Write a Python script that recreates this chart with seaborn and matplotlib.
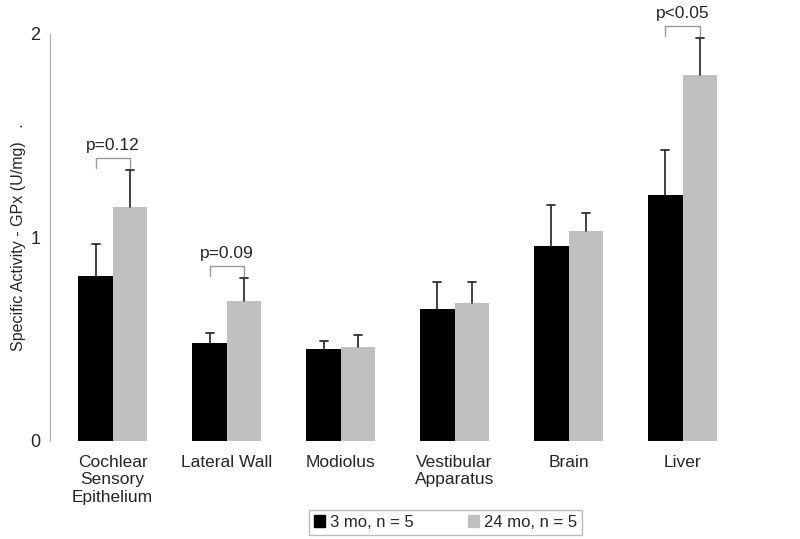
import numpy as np
import pandas as pd
import seaborn as sns
import matplotlib
import matplotlib.pyplot as plt

matplotlib.use("Agg")

tissues = ["Cochlear\nSensory\nEpithelium", "Lateral Wall", "Modiolus",
           "Vestibular\nApparatus", "Brain", "Liver"]
groups = ["3 mo, n = 5", "24 mo, n = 5"]
young = [0.81, 0.48, 0.45, 0.65, 0.96, 1.21]
old = [1.15, 0.69, 0.46, 0.68, 1.03, 1.80]
young_err = [0.16, 0.05, 0.04, 0.13, 0.20, 0.22]
old_err = [0.18, 0.11, 0.06, 0.10, 0.09, 0.18]
pvals = {0: "p=0.12", 1: "p=0.09", 5: "p<0.05"}

df = pd.DataFrame({
    "tissue": tissues * 2,
    "group": [groups[0]] * 6 + [groups[1]] * 6,
    "value": young + old,
})

sns.set_style("white")
plt.rcParams["font.family"] = ["Liberation Sans", "DejaVu Sans"]

fig = plt.figure(figsize=(8, 5.39), dpi=100)
ax = fig.add_axes([0.0625, 0.182, 0.869, 0.755])

sns.barplot(data=df, x="tissue", y="value", hue="group", order=tissues,
            hue_order=groups, palette=["#000000", "#c0c0c0"], width=0.6,
            errorbar=None, saturation=1, linewidth=0, ax=ax, legend=False)

# one-sided error bars on top of each bar
for cont, errs in zip(ax.containers, [young_err, old_err]):
    for bar, e in zip(cont, errs):
        xc = bar.get_x() + bar.get_width() / 2
        h = bar.get_height()
        ax.plot([xc, xc], [h, h + e], color="#333333", lw=1.3)
        ax.plot([xc - 0.035, xc + 0.035], [h + e, h + e], color="#333333", lw=1.3)

# significance brackets
for i, txt in pvals.items():
    b1 = ax.containers[0][i]
    b2 = ax.containers[1][i]
    x1 = b1.get_x() + b1.get_width() / 2
    x2 = b2.get_x() + b2.get_width() / 2
    top = max(young[i] + young_err[i], old[i] + old_err[i]) + 0.06
    ax.plot([x1, x1, x2, x2], [top - 0.05, top, top, top - 0.05],
            color="#999999", lw=1, clip_on=False)
    ax.text((x1 + x2) / 2, top + 0.025, txt, ha="center", va="bottom",
            fontsize=12.5, clip_on=False)

ax.set_ylim(0, 2)
ax.set_xlim(-0.55, 5.55)
ax.set_yticks([0, 1, 2])
ax.set_yticklabels(["0", "1", "2"], fontsize=13)
ax.tick_params(axis="y", length=5, color="#aaaaaa", pad=2)
ax.tick_params(axis="x", length=0, labelsize=12.5, pad=10)
ax.set_xlabel("")
ax.set_ylabel("Specific Activity - GPx (U/mg)   .", fontsize=11.5, labelpad=3)

for s in ["top", "right", "bottom"]:
    ax.spines[s].set_visible(False)
ax.spines["left"].set_color("#aaaaaa")

handles = [plt.Rectangle((0, 0), 1, 1, color="#000000"),
           plt.Rectangle((0, 0), 1, 1, color="#c0c0c0")]
leg = fig.legend(handles, groups, loc="upper center", bbox_to_anchor=(0.557, 0.07),
                 ncol=2, fontsize=12, frameon=True, fancybox=False,
                 handlelength=0.7, handleheight=0.7, handletextpad=0.3,
                 columnspacing=3.2, borderpad=0.3, edgecolor="#aaaaaa")
leg.get_frame().set_linewidth(1)

fig.savefig("out.png", dpi=100)
